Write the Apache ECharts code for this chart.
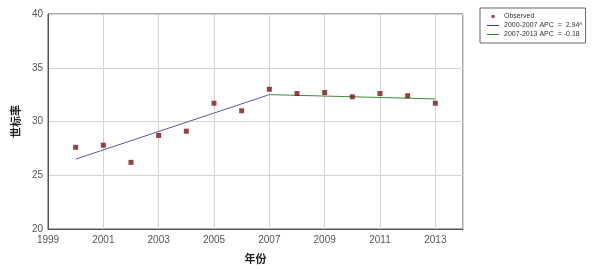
<!DOCTYPE html>
<html>
<head>
<meta charset="utf-8">
<script src="https://cdn.jsdelivr.net/npm/echarts@6/dist/echarts.min.js"></script>
<style>html,body{margin:0;padding:0;background:#fff;}#c{width:609px;height:269px;}</style>
</head>
<body>
<div id="c"></div>
<script>
var years = [2000,2001,2002,2003,2004,2005,2006,2007,2008,2009,2010,2011,2012,2013];
var observed = [27.6,27.8,26.2,28.7,29.1,31.7,31.0,33.0,32.6,32.7,32.3,32.6,32.4,31.7];
var seg1Years = [2000,2007];
var seg1Values = [26.5,32.5];
var seg2Years = [2007,2013];
var seg2Values = [32.5,32.1];
var legendNames = ['Observed','2000-2007 APC  =  2.94^','2007-2013 APC  = -0.18'];
var xTitle = '年份';
var yTitle = '世标率';
var xBase = 1999;

function pairs(xs, ys){ return xs.map(function(x,i){ return [x - xBase, ys[i]]; }); }

var chart = echarts.init(document.getElementById('c'), null, {renderer:'canvas'});
chart.setOption({
  animation:false,
  backgroundColor:'#fff',
  grid:{left:48,right:146,top:14,bottom:35,show:true,borderColor:'#555',borderWidth:1,backgroundColor:'transparent'},
  legend:{
    orient:'vertical', left:480, top:8,
    borderColor:'#666', borderWidth:1, padding:[4,3,4,7],
    itemGap:0, itemWidth:12, itemHeight:9,
    textStyle:{fontSize:7,lineHeight:9,color:'#333',fontFamily:'Liberation Sans, Arial, sans-serif'},
    data:[
      {name:legendNames[0], icon:'path://M0,0L0,0M12,9L12,9M4.5,3h3v3h-3z'},
      {name:legendNames[1], icon:'path://M0,0h12v1h-12z'},
      {name:legendNames[2], icon:'path://M0,0h12v1h-12z'}
    ]
  },
  xAxis:{
    type:'value', min:0, max:15, interval:2,
    name:xTitle, nameLocation:'middle', nameGap:24,
    nameTextStyle:{fontSize:11,fontWeight:'bold',color:'#222',fontFamily:'Noto Sans CJK SC'},
    axisLine:{show:true,lineStyle:{color:'#555'}},
    axisTick:{show:false},
    axisLabel:{color:'#555',fontSize:10,margin:6,fontFamily:'Liberation Sans, Arial, sans-serif',
      formatter:function(v){ return v===15 ? '' : String(v + xBase); }},
    splitLine:{show:true,lineStyle:{color:'#d4d4d4',width:1}}
  },
  yAxis:{
    type:'value', min:20, max:40, interval:5,
    name:yTitle, nameLocation:'middle', nameGap:27, nameRotate:90,
    nameTextStyle:{fontSize:11,fontWeight:'bold',color:'#222',fontFamily:'Noto Sans CJK SC'},
    axisLine:{show:true,lineStyle:{color:'#555'}},
    axisTick:{show:false},
    axisLabel:{color:'#555',fontSize:10,margin:5,fontFamily:'Liberation Sans, Arial, sans-serif'},
    splitLine:{show:true,lineStyle:{color:'#d4d4d4',width:1}}
  },
  series:[
    {name:legendNames[0], type:'scatter', symbol:'rect', symbolSize:5,
     itemStyle:{color:'#7a1414'}, data:pairs(years, observed), z:5},
    {name:legendNames[1], type:'line', symbol:'none', lineStyle:{color:'#5a5ab0',width:1},
     itemStyle:{color:'#3a3aa0'}, data:pairs(seg1Years, seg1Values)},
    {name:legendNames[2], type:'line', symbol:'none', lineStyle:{color:'#3f8a3f',width:1},
     itemStyle:{color:'#2f7a2f'}, data:pairs(seg2Years, seg2Values)}
  ]
});
</script>
</body>
</html>
